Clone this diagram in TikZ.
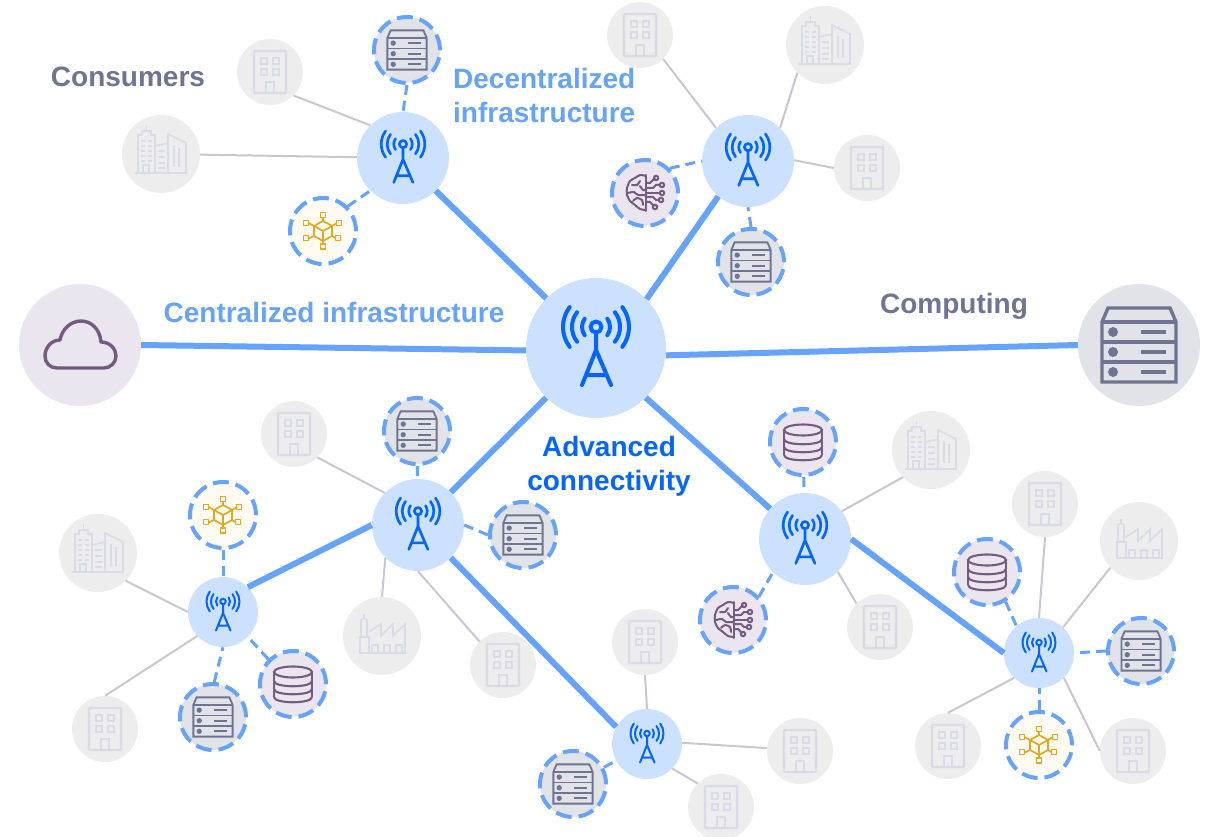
\documentclass[tikz,border=0pt]{standalone}
\usepackage{fontspec}
\setmainfont{Liberation Sans}
\definecolor{hubfill}{HTML}{CCE0FF}
\definecolor{towerc}{HTML}{0066FF}
\definecolor{linkc}{HTML}{66A3FF}
\definecolor{thinc}{HTML}{C6C7D3}
\definecolor{bldfill}{HTML}{EDEDEE}
\definecolor{bldc}{HTML}{DADBE7}
\definecolor{srvfill}{HTML}{E2E3E9}
\definecolor{srvc}{HTML}{6E7491}
\definecolor{purfill}{HTML}{EAE5EE}
\definecolor{purc}{HTML}{745B7F}
\definecolor{cubefill}{HTML}{FFFAF2}
\definecolor{cubec}{HTML}{DDA922}
\tikzset{
  hubnode/.style={circle,fill=hubfill,inner sep=0pt,minimum size=#1},
  bld/.style={circle,fill=bldfill,inner sep=0pt,minimum size=#1},
  badge/.style={circle,inner sep=0pt,minimum size=66pt,draw=linkc,line width=4pt,dash pattern=on 16pt off 7pt},
  srvb/.style={badge,fill=srvfill},
  purb/.style={badge,fill=purfill},
  cubeb/.style={badge,fill=cubefill},
  bigfill/.style={circle,inner sep=0pt,minimum size=122pt,fill=#1},
  thickl/.style={draw=linkc,line width=6pt},
  thinl/.style={draw=thinc,line width=2pt},
  dashl/.style={draw=linkc,line width=3pt,dash pattern=on 10pt off 6pt},
  lab/.style={font=\fontsize{28}{34}\selectfont\bfseries,inner sep=0pt},
  pics/tower/.style={code={
    \begin{scope}[scale=#1,draw=towerc,line width={4pt*#1},line cap=round,line join=round]
      \draw (0,-21) circle[radius=5.5];
      \draw (0,-15.5) -- (0,2) (0,2) -- (-14,37) (0,2) -- (15,37) (-10,27) -- (10,27);
      \foreach \r/\a in {33/37,24/38,14/36}{
        \draw ({\r*cos(\a)},{-21+\r*sin(\a)}) arc[start angle=\a,end angle=-\a,radius=\r];
        \draw ({-\r*cos(\a)},{-21+\r*sin(\a)}) arc[start angle=180-\a,end angle=180+\a,radius=\r];
      }
    \end{scope}}},
  pics/server/.style={code={
    \begin{scope}[scale=#1,draw=srvc,line width={3.4pt*#1},line join=miter]
      \draw (-37,-23) -- (-31,-37) -- (31,-37) -- (37,-23) -- (37,37) -- (-37,37) -- cycle;
      \draw (-37,-23) -- (37,-23) (-37,-3) -- (37,-3) (-37,17) -- (37,17);
      \foreach \y in {-13,7,27}{
        \fill[srvc] (-26,\y) circle[radius=5];
        \draw (2,\y) -- (27,\y);
      }
    \end{scope}}},
  pics/cloudicon/.style={code={
    \draw[draw=purc,line width=3.4pt,line join=round]
      (-20,-5) .. controls (-18,-16) and (-9,-24) .. (1,-24)
      .. controls (11,-24) and (20,-16) .. (21,-3)
      .. controls (30,-3) and (36,4) .. (36,11)
      .. controls (36,18) and (30,23) .. (24,23)
      -- (-23,23)
      .. controls (-30,23) and (-35,18) .. (-35,11)
      .. controls (-35,2) and (-28,-5) .. (-20,-5) -- cycle;}},
  pics/cyl/.style={code={
    \begin{scope}[draw=purc,line width=2.1pt]
      \draw (0,-12) ellipse[x radius=19,y radius=5.5];
      \draw (-19,-12) -- (-19,13) (19,-12) -- (19,13);
      \foreach \y in {-3,5,13}{
        \draw (-19,\y) .. controls (-19,{\y+7}) and (19,{\y+7}) .. (19,\y);
      }
    \end{scope}}},
  pics/brain/.style={code={
    \begin{scope}[draw=purc,line width=2pt,line cap=round]
      \draw (1,-18) -- (1,18);
      \draw plot[smooth] coordinates {(1,-17) (-5,-18) (-10,-15) (-15,-12) (-18,-5) (-18,2) (-15,8) (-10,12) (-5,16) (1,17)};
      \draw plot[smooth] coordinates {(-13,-8) (-8,-8) (-5,-12)};
      \draw plot[smooth] coordinates {(-17,0) (-11,-1) (-7,2) (1,2)};
      \draw plot[smooth] coordinates {(-12,8) (-8,5) (-3,7) (-2,12)};
      \draw plot[smooth] coordinates {(-5,-7) (-2,-3) (1,-3)};
      \draw (1,-10) -- (5,-10) -- (10,-15);
      \draw (1,-5) -- (8,-5) -- (11,-8) -- (15,-8);
      \draw (1,0) -- (15,0);
      \draw (1,4) -- (8,4) -- (11,7) -- (14,7);
      \draw (1,9) -- (5,9) -- (9,13);
      \foreach \x/\y in {11/-15,17/-8,17/0,16/7,10/14}{
        \draw (\x,\y) circle[radius=2.2];
      }
    \end{scope}}},
  pics/cube/.style={code={
    \begin{scope}[draw=cubec,line width=1.7pt,line join=round]
      \draw (0,-10) -- (9,-5) -- (9,5) -- (0,10) -- (-9,5) -- (-9,-5) -- cycle;
      \draw (-9,-5) -- (0,0) -- (9,-5) (0,0) -- (0,10);
      \draw (0,-10) -- (0,-13.5) (0,10) -- (0,13);
      \draw (-9,-5) -- (-14.5,-8) (9,-5) -- (14,-8) (-9,5) -- (-14.5,7.5) (9,5) -- (13,7.5);
      \foreach \x/\y in {0/-16,-17/-8,16/-8,-17/7,15/7,0/15.5}{
        \draw (\x-2.6,\y-2.6) rectangle (\x+2.6,\y+2.6);
      }
    \end{scope}}},
  pics/office/.style={code={
    \begin{scope}[draw=bldc,line width=2.2pt]
      \draw[rounded corners=1pt] (-16,-21) rectangle (16,21);
      \draw (-9,-14) rectangle (-3,-8) (3,-14) rectangle (9,-8);
      \draw (-9,-3) rectangle (-3,3) (3,-3) rectangle (9,3);
      \draw (-4,21) -- (-4,10) -- (4,10) -- (4,21);
    \end{scope}}},
  pics/city/.style={code={
    \begin{scope}[draw=bldc,line width=1.6pt]
      \draw (-26,19) -- (26,19);
      \draw (-23,19) -- (-23,-19) -- (-19,-19) -- (-19,-23) -- (-10,-23) -- (-10,-19) -- (-6,-19) -- (-6,19);
      \draw (-14.5,-23) -- (-14.5,-29);
      \draw (-6,-8) -- (7,-11) (7,19) -- (7,-20) -- (25,-11) -- (25,19);
      \draw (-18,19) -- (-18,11) -- (-12,11) -- (-12,19);
      \foreach \y in {-13,-8,-3,2,7}{
        \draw (-20,\y) -- (-16,\y) (-13,\y) -- (-9,\y);
      }
      \foreach \y in {-3,3,9,14}{
        \draw (-3,\y) -- (4,\y);
      }
      \draw (13,-9) -- (13,13) (18,-6) -- (18,13);
    \end{scope}}},
  pics/factory/.style={code={
    \begin{scope}[draw=bldc,line width=1.6pt]
      \draw (-22,17) rectangle (-13,1);
      \draw (-21,1) -- (-21,-16) -- (-18,-18) -- (-15,-16) -- (-15,1);
      \draw (-18,-18) -- (-18,-22);
      \draw (-13,-4) -- (-1,-12) -- (-1,0) -- (11,-12) -- (11,0) -- (23,-12) -- (23,17) -- (-13,17);
      \foreach \x in {-10,2,14}{
        \draw (\x,17) -- (\x,9) -- (\x+6,9) -- (\x+6,17);
      }
    \end{scope}}}
}
\begin{document}
\begin{tikzpicture}[x=1pt,y=-1pt]
\useasboundingbox (0,0) rectangle (1212,837);
% hubs
\node[hubnode=140pt] (C) at (596,348) {};
\node[hubnode=92pt] (H1) at (403,158) {};
\node[hubnode=92pt] (H2) at (748,161) {};
\node[hubnode=92pt] (H3) at (418,525) {};
\node[hubnode=92pt] (H4) at (805,539) {};
\node[hubnode=70pt] (H5) at (223,612) {};
\node[hubnode=70pt] (H6) at (647,744) {};
\node[hubnode=70pt] (H7) at (1039,653) {};
\node[bigfill=purfill] (cloud) at (80,345) {};
\node[bigfill=srvfill] (bigsrv) at (1139,345) {};
% buildings
\foreach \n/\x/\y in {b1/270/72,b2/640/35,b3/867/168,b4/294/434,b5/503/665,b6/105/729,b7/645/642,b8/800/751,b9/721/807,b10/880/627,b11/1045/504,b12/948/746,b13/1133/751}{
  \node[bld=66pt] (\n) at (\x,\y) {};
  \pic at (\n) {office};
}
\foreach \n/\x/\y in {city1/161/154,city2/825/45,city3/98/553,city4/931/450}{
  \node[bld=78pt] (\n) at (\x,\y) {};
  \pic at (\n) {city};
}
\foreach \n/\x/\y in {fact1/382/636,fact2/1139/541}{
  \node[bld=78pt] (\n) at (\x,\y) {};
  \pic at (\n) {factory};
}
% badges
\foreach \n/\x/\y in {srv1/407/50,srv2/751/262,srv3/417/431,srv4/523/535,srv5/213/717,srv6/573/784,srv7/1141/651}{
  \node[srvb] (\n) at (\x,\y) {};
  \pic at (\n) {server=0.53};
}
\foreach \n/\x/\y in {cube1/323/231,cube2/223/515,cube3/1039/745}{
  \node[cubeb] (\n) at (\x,\y) {};
  \pic at (\n) {cube};
}
\foreach \n/\x/\y in {brain1/645/193,brain2/733/620}{
  \node[purb] (\n) at (\x,\y) {};
  \pic at (\n) {brain};
}
\foreach \n/\x/\y in {cyl1/293/684,cyl2/803/442,cyl3/987/572}{
  \node[purb] (\n) at (\x,\y) {};
  \pic at (\n) {cyl};
}
% icons
\pic at (C) {tower=1};
\foreach \h in {H1,H2,H3,H4}{\pic at (\h) {tower=0.66};}
\foreach \h in {H5,H6,H7}{\pic at (\h) {tower=0.5};}
\pic at (cloud) {cloudicon};
\pic at (bigsrv) {server=1};
% thick links
\draw[thickl] (cloud.0) -- (C.182);
\draw[thickl] (bigsrv.180) -- (C.-6);
\draw[thickl] (C.135) -- (H1.-45);
\draw[thickl] (C.44) -- (H2.-130);
\draw[thickl] (C.-135) -- (H3.45);
\draw[thickl] (C.-45) -- (H4.139);
\draw[thickl] (H3.180) -- (H5.45);
\draw[thickl] (H3.-45) -- (H6.151);
\draw[thickl] (H4.0) -- (H7.180);
% thin links
\draw[thinl] (b1.-45) -- (H1.135);
\draw[thinl] (city1) -- (H1);
\draw[thinl] (b2.-46) -- (H2.134);
\draw[thinl] (city2.-135) -- (H2.46);
\draw[thinl] (b3.180) -- (H2.1);
\draw[thinl] (b4.-45) -- (H3.136);
\draw[thinl] (fact1.90) -- (H3.-135);
\draw[thinl] (b5.135) -- (H3.-90);
\draw[thinl] (city3.-45) -- (H5.180);
\draw[thinl] (b6.90) -- (H5.-137);
\draw[thinl] (b7.-90) -- (H6.90);
\draw[thinl] (b8.175) -- (H6.2);
\draw[thinl] (b9.135) -- (H6.-44);
\draw[thinl] (city4.-136) -- (H4.37);
\draw[thinl] (b10.135) -- (H4.-45);
\draw[thinl] (b11.-90) -- (H7.90);
\draw[thinl] (fact2.-137) -- (H7.47);
\draw[thinl] (b12.90) -- (H7.-135);
\draw[thinl] (b13.180) -- (H7.-45);
% dashed links
\draw[dashl] (srv1.-90) -- (H1.90);
\draw[dashl] (cube1.45) -- (H1.-135);
\draw[dashl] (brain1.45) -- (H2.180);
\draw[dashl] (srv2.90) -- (H2.-90);
\draw[dashl] (srv3) -- (H3);
\draw[dashl] (srv4.180) -- (H3.0);
\draw[dashl] (cube2) -- (H5);
\draw[dashl] (cyl1.135) -- (H5.-45);
\draw[dashl] (srv5.88) -- (H5.-90);
\draw[dashl] (srv6) -- (H6);
\draw[dashl] (cyl2) -- (H4);
\draw[dashl] (brain2.42) -- (H4.-134);
\draw[dashl] (cyl3.-58) -- (H7.130);
\draw[dashl] (srv7.180) -- (H7.0);
\draw[dashl] (cube3) -- (H7);
% labels
\node[lab,text=srvc] (tConsumers) at (128,77) {Consumers};
\node[lab,text=srvc] (tComputing) at (954,306) {Computing};
\node[lab,text=linkc,align=left,anchor=west] (tDec) at (453,95) {Decentralized\\infrastructure};
\node[lab,text=linkc] (tCen) at (334,312) {Centralized infrastructure};
\node[lab,text=towerc,align=center] (tAdv) at (609,466) {Advanced\\connectivity};
\end{tikzpicture}
\end{document}
